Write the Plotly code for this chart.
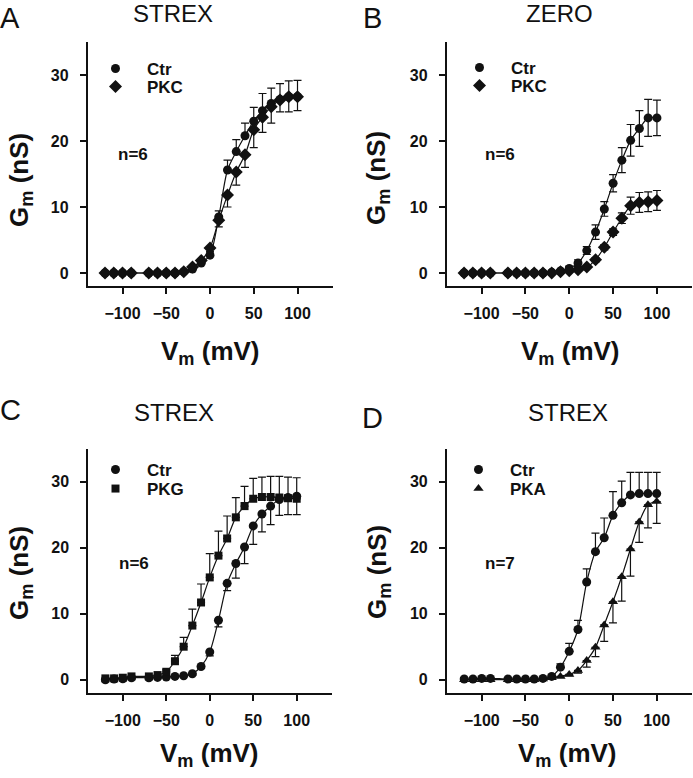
import plotly.graph_objects as go

W, H = 693, 778
FONT = "Liberation Sans, Arial, sans-serif"
BLACK = "#111111"

# membrane potential steps (mV); -80 was not sampled
VM = [-120, -110, -100, -90, -70, -60, -50, -40, -30, -20, -10,
      0, 10, 20, 30, 40, 50, 60, 70, 80, 90, 100]

# A: STREX, Ctr vs PKC
ctr_a = [0, 0, 0, 0, 0, 0, 0, 0, 0.2, 0.6, 1.5, 2.7, 8.5, 15.6, 18.4, 20.8, 23.0, 24.6, 25.7, 26.3, 26.7, 26.7]
ctr_a_err = [0] * 8 + [0.1, 0.2, 0.4, 0.5, 0.9, 1.5, 1.8, 1.9, 2.1, 2.6, 2.3, 2.4, 2.4, 2.5]
pkc_a = [0, 0, 0, 0, 0, 0, 0, 0, 0.2, 0.9, 1.9, 3.8, 8.0, 11.8, 15.3, 17.9, 21.7, 23.6, 25.2, 26.2, 26.7, 26.7]
pkc_a_err = [0] * 8 + [0.1, 0.2, 0.4, 0.6, 1.0, 1.8, 2.0, 1.9, 2.7, 2.3, 2.5, 1.8, 2.3, 2.1]

# B: ZERO, Ctr vs PKC
ctr_b = [0, 0, 0, 0, 0, 0, 0, 0, 0, 0.1, 0.3, 0.7, 1.5, 3.4, 6.2, 9.7, 13.6, 17.1, 20.1, 21.9, 23.5, 23.5]
ctr_b_err = [0] * 8 + [0, 0.1, 0.2, 0.3, 0.5, 0.6, 1.1, 1.1, 1.3, 1.9, 2.4, 2.7, 2.8, 2.7]
pkc_b = [0, 0, 0, 0, 0, 0, 0, 0, 0, 0, 0.2, 0.35, 0.5, 0.9, 2.0, 3.9, 6.2, 8.3, 10.2, 10.7, 10.8, 11.0]
pkc_b_err = [0] * 8 + [0, 0, 0.1, 0.1, 0.2, 0.2, 0.3, 0.4, 0.5, 0.8, 1.3, 1.5, 1.5, 1.5]

# C: STREX, Ctr vs PKG
ctr_c = [0, 0.1, 0.15, 0.3, 0.3, 0.35, 0.4, 0.5, 0.6, 0.9, 2.0, 4.2, 9.0, 14.6, 17.6, 20.1, 23.3, 25.1, 26.3, 27.3, 27.6, 27.8]
ctr_c_err = [0] * 8 + [0.1, 0.2, 0.3, 0.6, 1.0, 1.1, 2.2, 2.5, 2.8, 2.7, 2.8, 2.4, 2.6, 2.8]
pkg_c = [0.2, 0.2, 0.3, 0.5, 0.5, 0.7, 1.2, 2.8, 5.0, 8.2, 11.7, 15.5, 18.8, 21.4, 24.6, 26.3, 27.4, 27.7, 27.7, 27.6, 27.5, 27.4]
pkg_c_err = [0] * 6 + [0.3, 0.9, 1.4, 2.5, 2.8, 3.6, 3.7, 3.4, 3.0, 3.0, 3.1, 3.0, 3.1, 3.2, 3.2, 3.2]

# D: STREX, Ctr vs PKA
ctr_d = [0.1, 0.1, 0.2, 0.2, 0.1, 0.1, 0.1, 0.1, 0.2, 0.5, 1.9, 4.3, 7.6, 14.8, 19.4, 21.5, 24.9, 26.8, 28.0, 28.2, 28.2, 28.2]
ctr_d_err = [0] * 8 + [0.1, 0.2, 0.5, 1.2, 1.4, 2.0, 2.8, 3.0, 3.6, 3.3, 3.4, 3.2, 3.2, 3.2]
pka_d = [0, 0, 0, 0, 0, 0, 0, 0, 0.1, 0.3, 0.5, 0.8, 1.4, 2.9, 4.9, 8.3, 11.8, 15.6, 19.8, 23.9, 26.5, 27.0]
pka_d_err = [0] * 8 + [0, 0.1, 0.1, 0.2, 0.4, 1.0, 1.4, 2.5, 3.2, 3.7, 4.1, 3.1, 3.5, 3.3]

ZEROS = [0] * len(VM)

# panel boxes in pixels: (x_left, x_right, y_top, y_bottom)
panels = [
    dict(key="", box=(87.5, 332.5, 42, 286.2), letter="A", title="STREX", n="n=6",
         letter_xy=(10, 0), title_xy=(173, 14), n_xy=(133, 154), leg_xy=[(84, 51), (84, 69)],
         ytitle_xy=(20, 180), xtitle_xy=(210, 352),
         series=[("Ctr", "circle", 9, ctr_a, ctr_a_err, ZEROS),
                 ("PKC", "diamond", 10, pkc_a, ZEROS, pkc_a_err)]),
    dict(key="2", box=(446.5, 692, 42, 286.2), letter="B", title="ZERO", n="n=6",
         letter_xy=(373, 0), title_xy=(559, 14), n_xy=(500, 154), leg_xy=[(448, 50), (448, 68)],
         ytitle_xy=(377, 178), xtitle_xy=(570, 352),
         series=[("Ctr", "circle", 9, ctr_b, ctr_b_err, ctr_b_err),
                 ("PKC", "diamond", 10, pkc_b, pkc_b_err, pkc_b_err)]),
    dict(key="3", box=(88, 331.5, 448.7, 692.9), letter="C", title="STREX", n="n=6",
         letter_xy=(10, 392), title_xy=(174, 412), n_xy=(134, 563), leg_xy=[(84, 452), (84, 471)],
         ytitle_xy=(20, 573), xtitle_xy=(209, 754),
         series=[("Ctr", "circle", 9, ctr_c, ZEROS, ctr_c_err),
                 ("PKG", "square", 8, pkg_c, pkg_c_err, ZEROS)]),
    dict(key="4", box=(446.7, 691.7, 448.7, 692.9), letter="D", title="STREX", n="n=7",
         letter_xy=(373, 400), title_xy=(568, 412), n_xy=(500, 563), leg_xy=[(447, 452), (447, 471)],
         ytitle_xy=(378, 572), xtitle_xy=(567, 754),
         series=[("Ctr", "circle", 9, ctr_d, ctr_d_err, ZEROS),
                 ("PKA", "triangle-up", 9, pka_d, ZEROS, pka_d_err)]),
]

fig = go.Figure()
annotations = []
layout = {}
leg_n = 1


def ann(text, xy, size, bold=False, angle=0, yanchor="middle"):
    annotations.append(dict(text=text, x=xy[0] / W, y=1 - xy[1] / H, xref="paper", yref="paper",
                            xanchor="center", yanchor=yanchor, showarrow=False, textangle=angle,
                            font=dict(family=FONT, size=size, color=BLACK,
                                      weight="bold" if bold else "normal")))


for p in panels:
    k = p["key"]
    xa, ya = "x" + k, "y" + k
    x0, x1, yt, yb = p["box"]
    for (name, sym, size, vals, eplus, eminus), (lx, ly) in zip(p["series"], p["leg_xy"]):
        leg = "legend" if leg_n == 1 else f"legend{leg_n}"
        leg_n += 1
        fig.add_trace(go.Scatter(
            x=VM, y=vals, mode="lines", line=dict(color=BLACK, width=1.2, shape="spline", smoothing=0.8),
            xaxis=xa, yaxis=ya, showlegend=False, hoverinfo="skip"))
        fig.add_trace(go.Scatter(
            x=VM, y=vals, mode="markers", name=name, legend=leg,
            marker=dict(symbol=sym, size=size, color=BLACK),
            error_y=dict(type="data", symmetric=False, array=eplus, arrayminus=eminus,
                         color=BLACK, thickness=1.2, width=4),
            xaxis=xa, yaxis=ya))
        layout[leg] = dict(x=lx / W, y=1 - ly / H, xanchor="left", yanchor="top",
                           bgcolor="rgba(0,0,0,0)", itemwidth=53,
                           font=dict(family=FONT, size=17, color=BLACK, weight="bold"))

    axis_common = dict(showline=True, linecolor=BLACK, linewidth=1.5, mirror=False,
                       ticks="outside", ticklen=6, tickwidth=1.5, tickcolor=BLACK,
                       showgrid=False, zeroline=False,
                       tickfont=dict(family=FONT, size=16, color=BLACK, weight="bold"))
    layout["xaxis" + k] = dict(axis_common, domain=[x0 / W, x1 / W], range=[-140, 140],
                               tickvals=[-100, -50, 0, 50, 100], anchor=ya,
                               ticklabelstandoff=6)
    layout["yaxis" + k] = dict(axis_common, domain=[1 - yb / H, 1 - yt / H], range=[-2, 35],
                               tickvals=[0, 10, 20, 30], anchor=xa,
                               ticklabelstandoff=8)

    ann(p["letter"], p["letter_xy"], 29, yanchor="top")
    ann(p["title"], p["title_xy"], 24)
    ann(p["n"], p["n_xy"], 17, bold=True)
    ann("G<sub>m</sub> (nS)", p["ytitle_xy"], 26, bold=True, angle=-90)
    ann("V<sub>m</sub> (mV)", p["xtitle_xy"], 26, bold=True)

fig.update_layout(
    width=W, height=H, margin=dict(l=0, r=0, t=0, b=0),
    plot_bgcolor="white", paper_bgcolor="white",
    font=dict(family=FONT, color=BLACK),
    annotations=annotations, **layout)

# the page body has a default 8px margin; remove it so the figure sits at the window origin
fig.write_html("out.html", config={"displayModeBar": False},
               post_script="document.body.style.margin='0';")
